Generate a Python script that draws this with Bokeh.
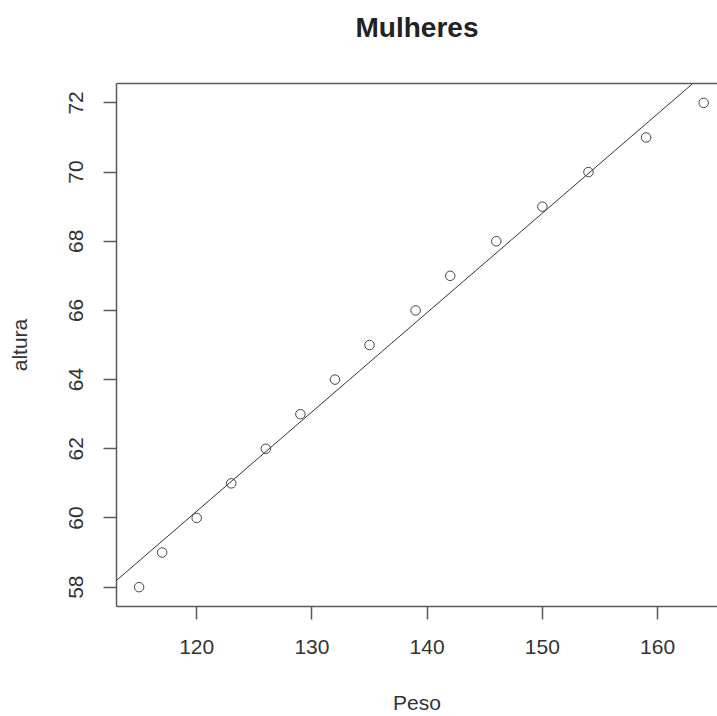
import numpy as np
from bokeh.plotting import figure
from bokeh.models import Range1d, FixedTicker, LinearAxis, Slope, ColumnDataSource
from bokeh.embed import file_html
from bokeh.resources import INLINE

peso = [115, 117, 120, 123, 126, 129, 132, 135, 139, 142, 146, 150, 154, 159, 164]
altura = [58, 59, 60, 61, 62, 63, 64, 65, 66, 67, 68, 69, 70, 71, 72]
x_ticks = [120, 130, 140, 150, 160]
y_ticks = [58, 60, 62, 64, 66, 68, 70, 72]
titulo = "Mulheres"
rotulo_x = "Peso"
rotulo_y = "altura"

FONT = "Liberation Sans"
LINE = "#5a5a5a"

p = figure(width=717, height=716, output_backend="svg", toolbar_location=None,
           x_range=Range1d(113.04, 165.2), y_range=Range1d(57.44, 72.56),
           x_axis_location=None, y_axis_location=None,
           min_border_left=116, min_border_right=0, min_border_top=83, min_border_bottom=110)
p.outline_line_color = None
p.grid.visible = False
p.background_fill_color = "white"
p.border_fill_color = "white"

def style(ax, ticks):
    ax.ticker = FixedTicker(ticks=ticks)
    ax.minor_tick_line_color = None
    ax.major_tick_in = 0
    ax.major_tick_out = 13
    ax.major_tick_line_color = LINE
    ax.major_tick_line_width = 1.5
    ax.axis_line_color = LINE
    ax.axis_line_width = 1.5
    ax.major_label_text_font = FONT
    ax.major_label_text_font_size = "21px"
    ax.major_label_text_color = "#333333"
    ax.axis_label_text_font = FONT
    ax.axis_label_text_font_size = "21px"
    ax.axis_label_text_font_style = "normal"
    ax.axis_label_text_color = "#333333"

xa = LinearAxis(axis_label=rotulo_x)
style(xa, x_ticks)
xa.major_label_standoff = 20
xa.axis_label_standoff = 34
p.add_layout(xa, "below")

ya = LinearAxis(axis_label=rotulo_y)
style(ya, y_ticks)
ya.major_label_orientation = "vertical"
ya.major_label_standoff = 20
ya.axis_label_standoff = 36
p.add_layout(ya, "left")

# top border line of the box, carrying the chart title as its label
top = LinearAxis(ticker=FixedTicker(ticks=[]), axis_label=titulo)
top.axis_line_color = LINE
top.axis_line_width = 1.5
top.major_tick_line_color = None
top.minor_tick_line_color = None
top.major_label_text_font_size = "0px"
top.axis_label_text_font = FONT
top.axis_label_text_font_size = "28px"
top.axis_label_text_font_style = "bold"
top.axis_label_text_color = "#222222"
top.axis_label_standoff = 41
p.add_layout(top, "above")

# regression line lm(altura ~ peso)
b, a = np.polyfit(np.array(peso, float), np.array(altura, float), 1)
p.add_layout(Slope(gradient=b, y_intercept=a, line_color="#333333", line_width=1))

src = ColumnDataSource(dict(x=peso, y=altura))
p.scatter("x", "y", source=src, marker="circle", size=9.5, fill_color=None,
          line_color="#444444", line_width=1)

open("out.html", "w").write(file_html(p, INLINE))
